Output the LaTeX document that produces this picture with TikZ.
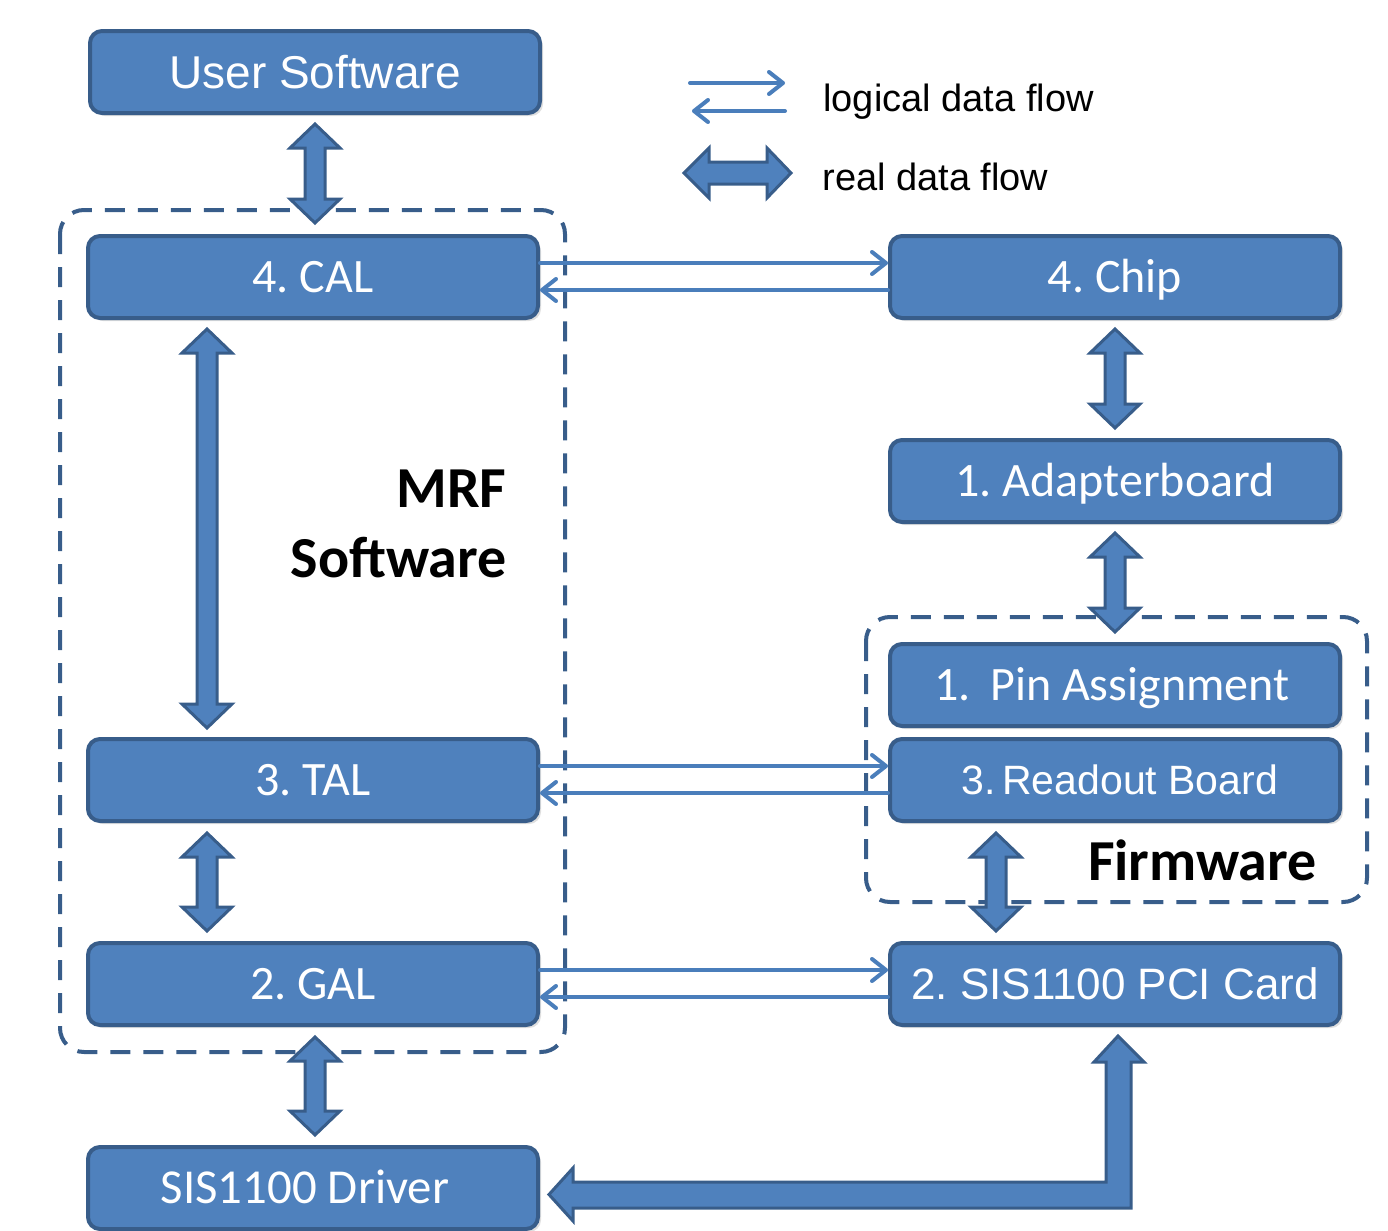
\documentclass[tikz,border=0pt]{standalone}
\usepackage{fontspec}
\newfontfamily\calibri{Carlito}
\newfontfamily\arial{Liberation Sans}
\usetikzlibrary{shadows,arrows.meta,calc}
\definecolor{boxfill}{HTML}{4F81BD}
\definecolor{boxdraw}{HTML}{385D8A}
\definecolor{flow}{HTML}{4A7EBB}
\frenchspacing
\tikzset{
  x=0.5pt, y=-0.5pt,
  box/.style={rounded corners=6pt, fill=boxfill, draw=boxdraw, line width=2pt,
    minimum width=225pt, minimum height=41pt, text=white, inner sep=0pt,
    drop shadow={shadow xshift=1.5pt, shadow yshift=-1.5pt, opacity=0.25}},
  calfont/.style={font=\calibri\fontsize{24}{28}\selectfont, text height=15.5pt, text depth=0pt},
  arialfont/.style={font=\arial\fontsize{#1}{#1}\selectfont, text height=0.716*#1pt, text depth=0pt},
  dashbox/.style={draw=boxdraw, line width=2pt, dash pattern=on 10pt off 6.5pt, rounded corners=12pt},
  blockarrow/.style={fill=boxfill, draw=boxdraw, line width=1.5pt, line join=miter},
  logic/.style={draw=flow, line width=2pt, line cap=round,
    -{Straight Barb[length=7pt,width=11pt,line cap=round,line join=round]}},
  bigtext/.style={font=\calibri\bfseries\fontsize{29}{33}\selectfont, inner sep=0pt, anchor=base east},
  legtext/.style={font=\arial\fontsize{19}{23}\selectfont, inner sep=0pt, anchor=base west},
}
\newcommand\vbiarrow[3]{%
  \filldraw[blockarrow] (#1,#2) -- (#1+25,#2+24) -- (#1+10,#2+24) -- (#1+10,#3-24)
    -- (#1+25,#3-24) -- (#1,#3) -- (#1-25,#3-24) -- (#1-10,#3-24) -- (#1-10,#2+24)
    -- (#1-25,#2+24) -- cycle;}
\begin{document}
\begin{tikzpicture}
\useasboundingbox (0,0) rectangle (1388,1231);
% dashed groups
\draw[dashbox] (60,210) rectangle (565,1052);
\draw[dashbox] (866,617) rectangle (1367,902);
% boxes
\node[box, arialfont=23] (us) at (315,72) {User Software};
\node[box, calfont] (cal) at (313,277) {4. CAL};
\node[box, calfont] (tal) at (313,780) {3. TAL};
\node[box, calfont] (gal) at (313,984) {2. GAL};
\node[box, calfont] (drv) at (313,1188) {\fontsize{24.4}{28}\selectfont SIS1100 Driver\kern8pt};
\node[box, calfont] (chip) at (1115,277) {4. Chip};
\node[box, calfont] (adp) at (1115,481) {1. Adapterboard};
\node[box, calfont] (pin) at (1115,685) {1.\kern0.4em Pin Assignment\kern3pt};
\node[box, arialfont=20.5] (rob) at (1115,780) {\kern5pt 3.\kern0.15em Readout Board};
\node[box, arialfont=22] (pci) at (1115,984) {2. SIS1100 PCI Card};
% labels
\node[bigtext] (mrf) at (507,507) {MRF};
\node[bigtext] (sw) at (507,577) {Software};
\node[bigtext] (fw) at (1317,880) {Firmware};
% logical data flow
\draw[logic] ($(cal.east)+(0,-14)$) -- ($(chip.west)+(0,-14)$);
\draw[logic] ($(chip.west)+(0,13)$) -- ($(cal.east)+(0,13)$);
\draw[logic] ($(tal.east)+(0,-14)$) -- ($(rob.west)+(0,-14)$);
\draw[logic] ($(rob.west)+(0,13)$) -- ($(tal.east)+(0,13)$);
\draw[logic] ($(gal.east)+(0,-14)$) -- ($(pci.west)+(0,-14)$);
\draw[logic] ($(pci.west)+(0,13)$) -- ($(gal.east)+(0,13)$);
% real data flow
\vbiarrow{315}{124}{223}
\vbiarrow{207}{329}{728}
\vbiarrow{207}{833}{931}
\vbiarrow{315}{1037}{1135}
\vbiarrow{1115}{329}{428}
\vbiarrow{1115}{533}{632}
\vbiarrow{996}{833}{931}
\filldraw[blockarrow] (1118,1036) -- (1144,1062) -- (1131,1062) -- (1131,1208)
  -- (573,1208) -- (573,1221) -- (549,1194.5) -- (573,1168) -- (573,1182)
  -- (1106,1182) -- (1106,1062) -- (1094,1062) -- cycle;
% legend
\coordinate (la1) at (690,83);
\coordinate (la2) at (785,83);
\coordinate (lb1) at (785,111);
\coordinate (lb2) at (692,111);
\draw[logic] (la1) -- (la2);
\draw[logic] (lb1) -- (lb2);
\filldraw[blockarrow] (684,173) -- (709,148) -- (709,162) -- (767,162) -- (767,148)
  -- (791,173) -- (767,198) -- (767,184) -- (709,184) -- (709,198) -- cycle;
\node[legtext] (lg1) at (823,111) {logical data flow};
\node[legtext] (lg2) at (822,190) {real data flow};
\end{tikzpicture}
\end{document}
